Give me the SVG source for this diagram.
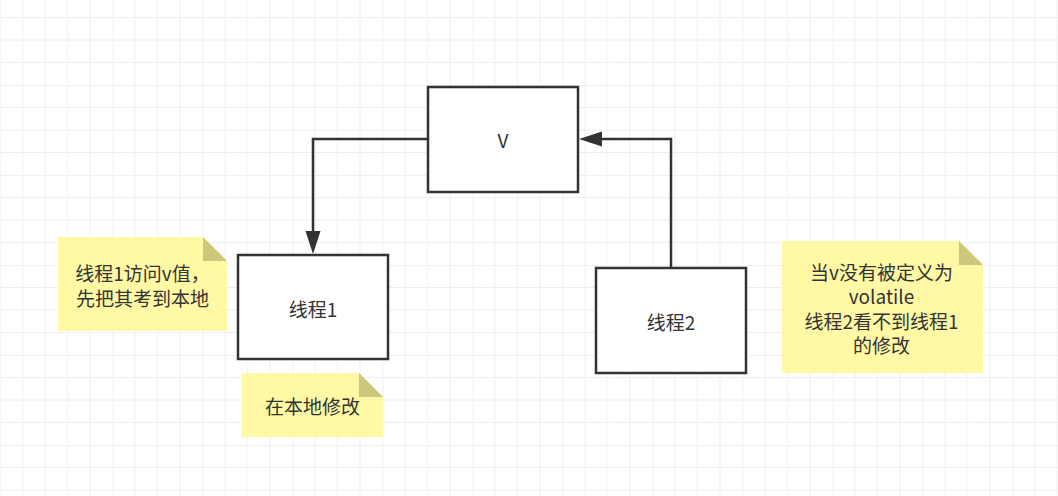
<svg xmlns="http://www.w3.org/2000/svg" width="1058" height="496" viewBox="0 0 1058 496">
  <defs>
    <pattern id="grid" patternUnits="userSpaceOnUse" x="22.5" y="-5" width="90" height="90">
      <path d="M22.5,0V90M45,0V90M67.5,0V90M0,22.5H90M0,45H90M0,67.5H90" stroke="#eeeeee" stroke-width="1" fill="none"/>
      <path d="M0,0V90M0,0H90" stroke="#e2e2e2" stroke-width="1" fill="none"/>
    </pattern>
    <style>
      .box { fill: #ffffff; stroke: #333333; stroke-width: 2.5; }
      .note { fill: #fff9a6; }
      .fold { fill: #ccc77a; }
      .txt { font-family: "Microsoft YaHei", "Noto Sans CJK SC", "Noto Sans", sans-serif; font-size: 19px; fill: #333333; text-anchor: middle; dominant-baseline: central; }
      .edge { fill: none; stroke: #333333; stroke-width: 2.5; }
      .head { fill: #333333; }
    </style>
  </defs>
  <rect width="1058" height="496" fill="#ffffff"/>
  <rect width="1058" height="496" fill="url(#grid)"/>

  <g id="connectors">
    <path class="edge" d="M428,139H313V238"/>
    <polygon class="head" points="313,254 305.5,231 320.5,231"/>
    <path class="edge" d="M671,268V139H598"/>
    <polygon class="head" points="579,139 602,131.5 602,146.5"/>
  </g>

  <g id="node-v">
    <rect class="box" x="428" y="87" width="150" height="105"/>
    <text class="txt" x="503" y="139">V</text>
  </g>

  <g id="node-thread1">
    <rect class="box" x="238" y="255" width="150" height="104"/>
    <text class="txt" x="313" y="308">线程1</text>
  </g>

  <g id="node-thread2">
    <rect class="box" x="596" y="268" width="150" height="105"/>
    <text class="txt" x="671" y="321">线程2</text>
  </g>

  <g id="note-1">
    <path class="note" d="M58,237H203L227,261V331H58Z"/>
    <path class="fold" d="M203,237L227,261H203Z"/>
    <text class="txt"><tspan x="142.5" y="272">线程1访问v值，</tspan><tspan x="142.5" y="297">先把其考到本地</tspan></text>
  </g>

  <g id="note-2">
    <path class="note" d="M242,373H359L383,397V437H242Z"/>
    <path class="fold" d="M359,373L383,397H359Z"/>
    <text class="txt" x="312.5" y="405">在本地修改</text>
  </g>

  <g id="note-3">
    <path class="note" d="M782,241H959L983,265V373H782Z"/>
    <path class="fold" d="M959,241L983,265H959Z"/>
    <text class="txt"><tspan x="881.5" y="270.5">当v没有被定义为</tspan><tspan x="881.5" y="295">volatile</tspan><tspan x="881.5" y="319.5">线程2看不到线程1</tspan><tspan x="881.5" y="344">的修改</tspan></text>
  </g>
</svg>
